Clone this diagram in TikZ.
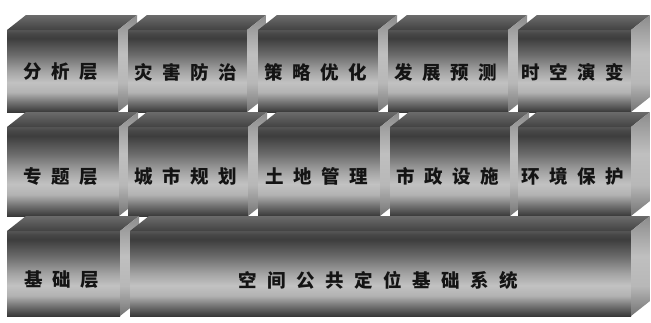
\documentclass[tikz,border=0pt]{standalone}
\usepackage{fontspec}
\newfontfamily\cjk{Noto Sans CJK SC}
\pgfdeclareverticalshading{frontsh}{100bp}{color(0bp)=(black!78); color(25bp)=(black!78); color(31bp)=(black!55); color(37bp)=(black!30); color(43bp)=(black!24); color(50bp)=(black!36); color(60bp)=(black!58); color(70bp)=(black!76); color(73bp)=(black!72); color(75bp)=(black!66); color(100bp)=(black!66)}
\pgfdeclareverticalshading{sidesh}{100bp}{color(0bp)=(black!55); color(25bp)=(black!55); color(40bp)=(black!28); color(55bp)=(black!25); color(75bp)=(black!45); color(100bp)=(black!45)}
\pgfdeclareverticalshading{topsh}{100bp}{color(0bp)=(black!74); color(25bp)=(black!74); color(75bp)=(black!58); color(100bp)=(black!58)}
\tikzset{
  frontface/.style={shading=frontsh},
  sideface/.style={shading=sidesh},
  topface/.style={shading=topsh},
  lbl/.style={inner sep=0pt, text=black!92, font=\cjk\bfseries\fontsize{18.5}{18.5}\selectfont},
}
\newcommand\ls{\hspace{9.5pt}}
% #1 name, #2 x0, #3 x1, #4 y front top, #5 y front bottom, #6 text y, #7 text
\newcommand\blockbox[7]{%
  \shade[frontface] (#2,#4) rectangle (#3,#5);
  \shade[topface] (#2,#4) -- ({#2+19},{#4-15}) -- ({#3+19},{#4-15}) -- (#3,#4) -- cycle;
  \shade[sideface] (#3,#4) -- ({#3+19},{#4-15}) -- ({#3+19},{#5-15}) -- (#3,#5) -- cycle;
  \node[lbl] (#1) at ({(#2+#3)/2-2},#6) {#7};
}
\begin{document}
\begin{tikzpicture}[x=1pt,y=-1pt]
\useasboundingbox[fill=white] (0,0) rectangle (651,322);
% row 1
\blockbox{a1}{7}{118}{30}{112}{72}{分\ls 析\ls 层}
\blockbox{a2}{128}{247}{30}{112}{72}{灾\ls 害\ls 防\ls 治}
\blockbox{a3}{258}{378}{30}{112}{72}{策\ls 略\ls 优\ls 化}
\blockbox{a4}{388}{508}{30}{112}{72}{发\ls 展\ls 预\ls 测}
\blockbox{a5}{518}{631}{30}{112}{72}{时\ls 空\ls 演\ls 变}
% row 2
\blockbox{b1}{7}{119}{127}{216}{176}{专\ls 题\ls 层}
\blockbox{b2}{128}{248}{127}{216}{176}{城\ls 市\ls 规\ls 划}
\blockbox{b3}{258}{380}{127}{216}{176}{土\ls 地\ls 管\ls 理}
\blockbox{b4}{390}{510}{127}{216}{176}{市\ls 政\ls 设\ls 施}
\blockbox{b5}{518}{631}{127}{216}{176}{环\ls 境\ls 保\ls 护}
% row 3
\blockbox{c1}{7}{120}{231}{316}{280}{基\ls 础\ls 层}
\blockbox{c2}{130}{631}{231}{316}{280}{空\hspace{10.5pt}间\hspace{10.5pt}公\hspace{10.5pt}共\hspace{10.5pt}定\hspace{10.5pt}位\hspace{10.5pt}基\hspace{10.5pt}础\hspace{10.5pt}系\hspace{10.5pt}统}
\end{tikzpicture}
\end{document}
